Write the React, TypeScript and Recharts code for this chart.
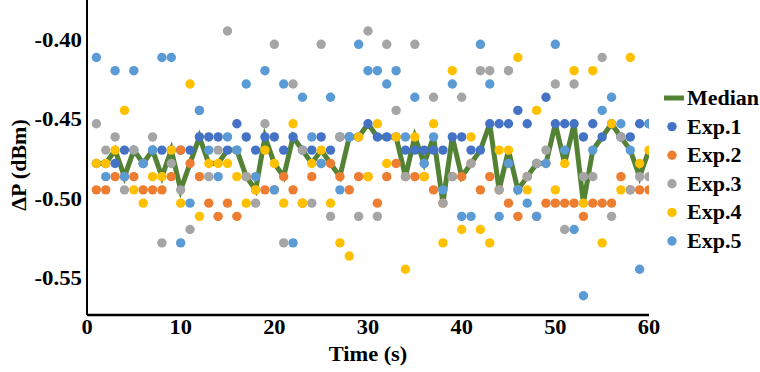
import React from 'react';
import { ScatterChart, Scatter, XAxis, YAxis } from 'recharts';

const timeSec = [
  1, 2, 3, 4, 5, 6, 7, 8, 9, 10, 11, 12, 13, 14, 15, 16, 17, 18, 19, 20,
  21, 22, 23, 24, 25, 26, 27, 28, 29, 30, 31, 32, 33, 34, 35, 36, 37, 38, 39, 40,
  41, 42, 43, 44, 45, 46, 47, 48, 49, 50, 51, 52, 53, 54, 55, 56, 57, 58, 59, 60,
];

const medianVals = [
  -0.4777, -0.4777, -0.4693, -0.486, -0.4693, -0.4777, -0.4693, -0.486, -0.4693, -0.4943,
  -0.4777, -0.461, -0.4777, -0.4777, -0.4693, -0.4693, -0.486, -0.4943, -0.461, -0.4777,
  -0.486, -0.461, -0.4693, -0.4777, -0.4693, -0.4777, -0.486, -0.461, -0.461, -0.4527,
  -0.461, -0.461, -0.461, -0.486, -0.461, -0.4777, -0.461, -0.5027, -0.461, -0.486,
  -0.4777, -0.4693, -0.4527, -0.4943, -0.4693, -0.4943, -0.486, -0.4777, -0.4777, -0.4527,
  -0.4777, -0.4527, -0.5027, -0.4693, -0.461, -0.4527, -0.461, -0.4693, -0.486, -0.4693,
];

const exp1Vals = [
  -0.4777, -0.4777, -0.4777, -0.4693, -0.4693, -0.4777, -0.4693, -0.4693, -0.4693, -0.4693,
  -0.4693, -0.461, -0.461, -0.461, -0.4693, -0.4527, -0.461, -0.4693, -0.461, -0.461,
  -0.4693, -0.461, -0.4693, -0.4693, -0.461, -0.4693, -0.461, -0.461, -0.461, -0.4527,
  -0.461, -0.461, -0.461, -0.4693, -0.4693, -0.4693, -0.4693, -0.4693, -0.461, -0.461,
  -0.4693, -0.4693, -0.4527, -0.4527, -0.4527, -0.4443, -0.4527, -0.4777, -0.436, -0.4527,
  -0.4527, -0.4527, -0.461, -0.4527, -0.461, -0.4527, -0.461, -0.461, -0.4527, -0.4527,
];

const exp2Vals = [
  -0.4943, -0.4943, -0.486, -0.486, -0.486, -0.4943, -0.4943, -0.4943, -0.486, -0.4693,
  -0.4777, -0.486, -0.5027, -0.511, -0.5027, -0.511, -0.486, -0.4943, -0.4943, -0.4943,
  -0.486, -0.4943, -0.5027, -0.486, -0.4777, -0.4777, -0.486, -0.4943, -0.486, -0.486,
  -0.5027, -0.486, -0.4777, -0.486, -0.486, -0.486, -0.4943, -0.5027, -0.486, -0.486,
  -0.4777, -0.4943, -0.486, -0.4943, -0.5027, -0.511, -0.486, -0.511, -0.5027, -0.5027,
  -0.5027, -0.5027, -0.511, -0.5027, -0.5027, -0.5027, -0.486, -0.4943, -0.4943, -0.4943,
];

const exp3Vals = [
  -0.4527, -0.4693, -0.461, -0.4943, -0.4693, -0.4777, -0.461, -0.5277, -0.4777, -0.4943,
  -0.5193, -0.4443, -0.486, -0.4693, -0.3943, -0.4693, -0.486, -0.5027, -0.4527, -0.4027,
  -0.5277, -0.4277, -0.4693, -0.5027, -0.4027, -0.511, -0.461, -0.461, -0.511, -0.3943,
  -0.511, -0.4027, -0.4443, -0.486, -0.4027, -0.4777, -0.436, -0.5027, -0.486, -0.436,
  -0.4777, -0.4193, -0.4193, -0.4943, -0.4193, -0.4943, -0.486, -0.4777, -0.4693, -0.4277,
  -0.5193, -0.4277, -0.486, -0.486, -0.411, -0.511, -0.461, -0.4943, -0.486, -0.486,
];

const exp4Vals = [
  -0.4777, -0.4777, -0.4693, -0.4443, -0.4943, -0.5027, -0.486, -0.486, -0.4693, -0.5027,
  -0.4277, -0.511, -0.4777, -0.4777, -0.4777, -0.486, -0.5027, -0.4943, -0.4693, -0.4777,
  -0.5027, -0.4527, -0.5027, -0.4777, -0.4693, -0.5027, -0.5277, -0.536, -0.461, -0.486,
  -0.4527, -0.4777, -0.461, -0.5443, -0.461, -0.486, -0.4527, -0.5277, -0.4193, -0.5193,
  -0.461, -0.5193, -0.5277, -0.4693, -0.4693, -0.411, -0.4943, -0.4443, -0.4777, -0.4943,
  -0.4777, -0.4193, -0.5027, -0.4193, -0.5277, -0.4527, -0.4943, -0.411, -0.4777, -0.4693,
];

const exp5Vals = [
  -0.411, -0.486, -0.4193, -0.486, -0.4193, -0.4777, -0.4693, -0.411, -0.411, -0.5277,
  -0.5027, -0.4443, -0.4693, -0.486, -0.461, -0.4693, -0.4277, -0.486, -0.4193, -0.4943,
  -0.4277, -0.5277, -0.436, -0.461, -0.4777, -0.436, -0.4943, -0.461, -0.4027, -0.4193,
  -0.4193, -0.4277, -0.4193, -0.461, -0.436, -0.4777, -0.461, -0.4943, -0.4277, -0.511,
  -0.511, -0.4027, -0.4277, -0.511, -0.4777, -0.4943, -0.5027, -0.511, -0.4777, -0.4027,
  -0.4693, -0.5193, -0.561, -0.4693, -0.4443, -0.436, -0.4527, -0.4693, -0.5443, -0.4527,
];

const xTicks = [0, 10, 20, 30, 40, 50, 60];
const yTicks = [-0.55, -0.5, -0.45, -0.4];
const seriesNames = ['Median', 'Exp.1', 'Exp.2', 'Exp.3', 'Exp.4', 'Exp.5'];
const xTitle = 'Time (s)';
const yTitle = 'ΔP (dBm)';

const COLORS = ['#548235', '#4472C4', '#ED7D31', '#A5A5A5', '#FFC000', '#5B9BD5'];
const FONT = "'Liberation Serif', 'Times New Roman', serif";

const toPoints = (vals: number[]) => vals.map((v, i) => ({ t: timeSec[i], v }));

const XTick = (props: any) => {
  const { x, y, payload } = props;
  return (
    <g transform={`translate(${x},${y})`}>
      <text transform="scale(1.12,1)" textAnchor="middle" y={19} fontFamily={FONT} fontWeight="bold" fontSize={20} fill="#000">
        {payload.value}
      </text>
    </g>
  );
};

const YTick = (props: any) => {
  const { x, y, payload } = props;
  return (
    <g transform={`translate(${x - 5},${y})`}>
      <text transform="scale(1.14,1)" textAnchor="end" y={7} fontFamily={FONT} fontWeight="bold" fontSize={20} fill="#000">
        {Number(payload.value).toFixed(2)}
      </text>
    </g>
  );
};

const emptyShape = () => <g />;

const Dot = (props: any) => {
  const { cx, cy, fill } = props;
  if (cx == null || cy == null) return <g />;
  return <circle cx={cx} cy={cy} r={4.7} fill={fill} />;
};

export default function App() {
  const expSeries = [exp1Vals, exp2Vals, exp3Vals, exp4Vals, exp5Vals];
  return (
    <div style={{ position: 'absolute', left: 0, top: 0, width: 760, height: 372, background: '#fff' }}>
      <ScatterChart width={760} height={372} margin={{ top: 0, right: 111, bottom: 0, left: 0 }}>
        <XAxis
          type="number"
          dataKey="t"
          domain={[0, 60]}
          ticks={xTicks}
          interval={0}
          allowDataOverflow
          height={57}
          tickSize={0}
          tickMargin={0}
          tickLine={false}
          axisLine={{ stroke: '#000', strokeWidth: 2.5 }}
          tick={<XTick />}
        />
        <YAxis
          type="number"
          dataKey="v"
          domain={[-0.5731, -0.3748]}
          ticks={yTicks}
          interval={0}
          allowDataOverflow
          width={87}
          tickSize={0}
          tickMargin={0}
          tickLine={false}
          axisLine={{ stroke: '#000', strokeWidth: 2 }}
          tick={<YTick />}
        />
        <Scatter
          name={seriesNames[0]}
          data={toPoints(medianVals)}
          line={{ stroke: COLORS[0], strokeWidth: 5 }}
          shape={emptyShape}
          isAnimationActive={false}
        />
        {expSeries.map((vals, i) => (
          <Scatter
            key={seriesNames[i + 1]}
            name={seriesNames[i + 1]}
            data={toPoints(vals)}
            fill={COLORS[i + 1]}
            shape={<Dot />}
            isAnimationActive={false}
          />
        ))}
      </ScatterChart>
      <svg width={760} height={372} style={{ position: 'absolute', left: 0, top: 0, pointerEvents: 'none' }}>
        <g transform="translate(368,361)">
          <text transform="scale(1.12,1)" textAnchor="middle" fontFamily={FONT} fontWeight="bold" fontSize={20} fill="#000">
            {xTitle}
          </text>
        </g>
        <g transform="translate(26,165) rotate(-90)">
          <text textAnchor="middle" fontFamily={FONT} fontWeight="bold" fontSize={22} fill="#000">
            {yTitle}
          </text>
        </g>
        {seriesNames.map((name, i) => {
          const cy = 98 + i * 28.6;
          return (
            <g key={name}>
              {i === 0 ? (
                <line x1={664} x2={684} y1={cy} y2={cy} stroke={COLORS[0]} strokeWidth={5} />
              ) : (
                <circle cx={672} cy={cy} r={4.7} fill={COLORS[i]} />
              )}
              <g transform={`translate(687,${cy + 7})`}>
                <text transform="scale(1.1,1)" fontFamily={FONT} fontWeight="bold" fontSize={20} fill="#000">
                  {name}
                </text>
              </g>
            </g>
          );
        })}
      </svg>
    </div>
  );
}
